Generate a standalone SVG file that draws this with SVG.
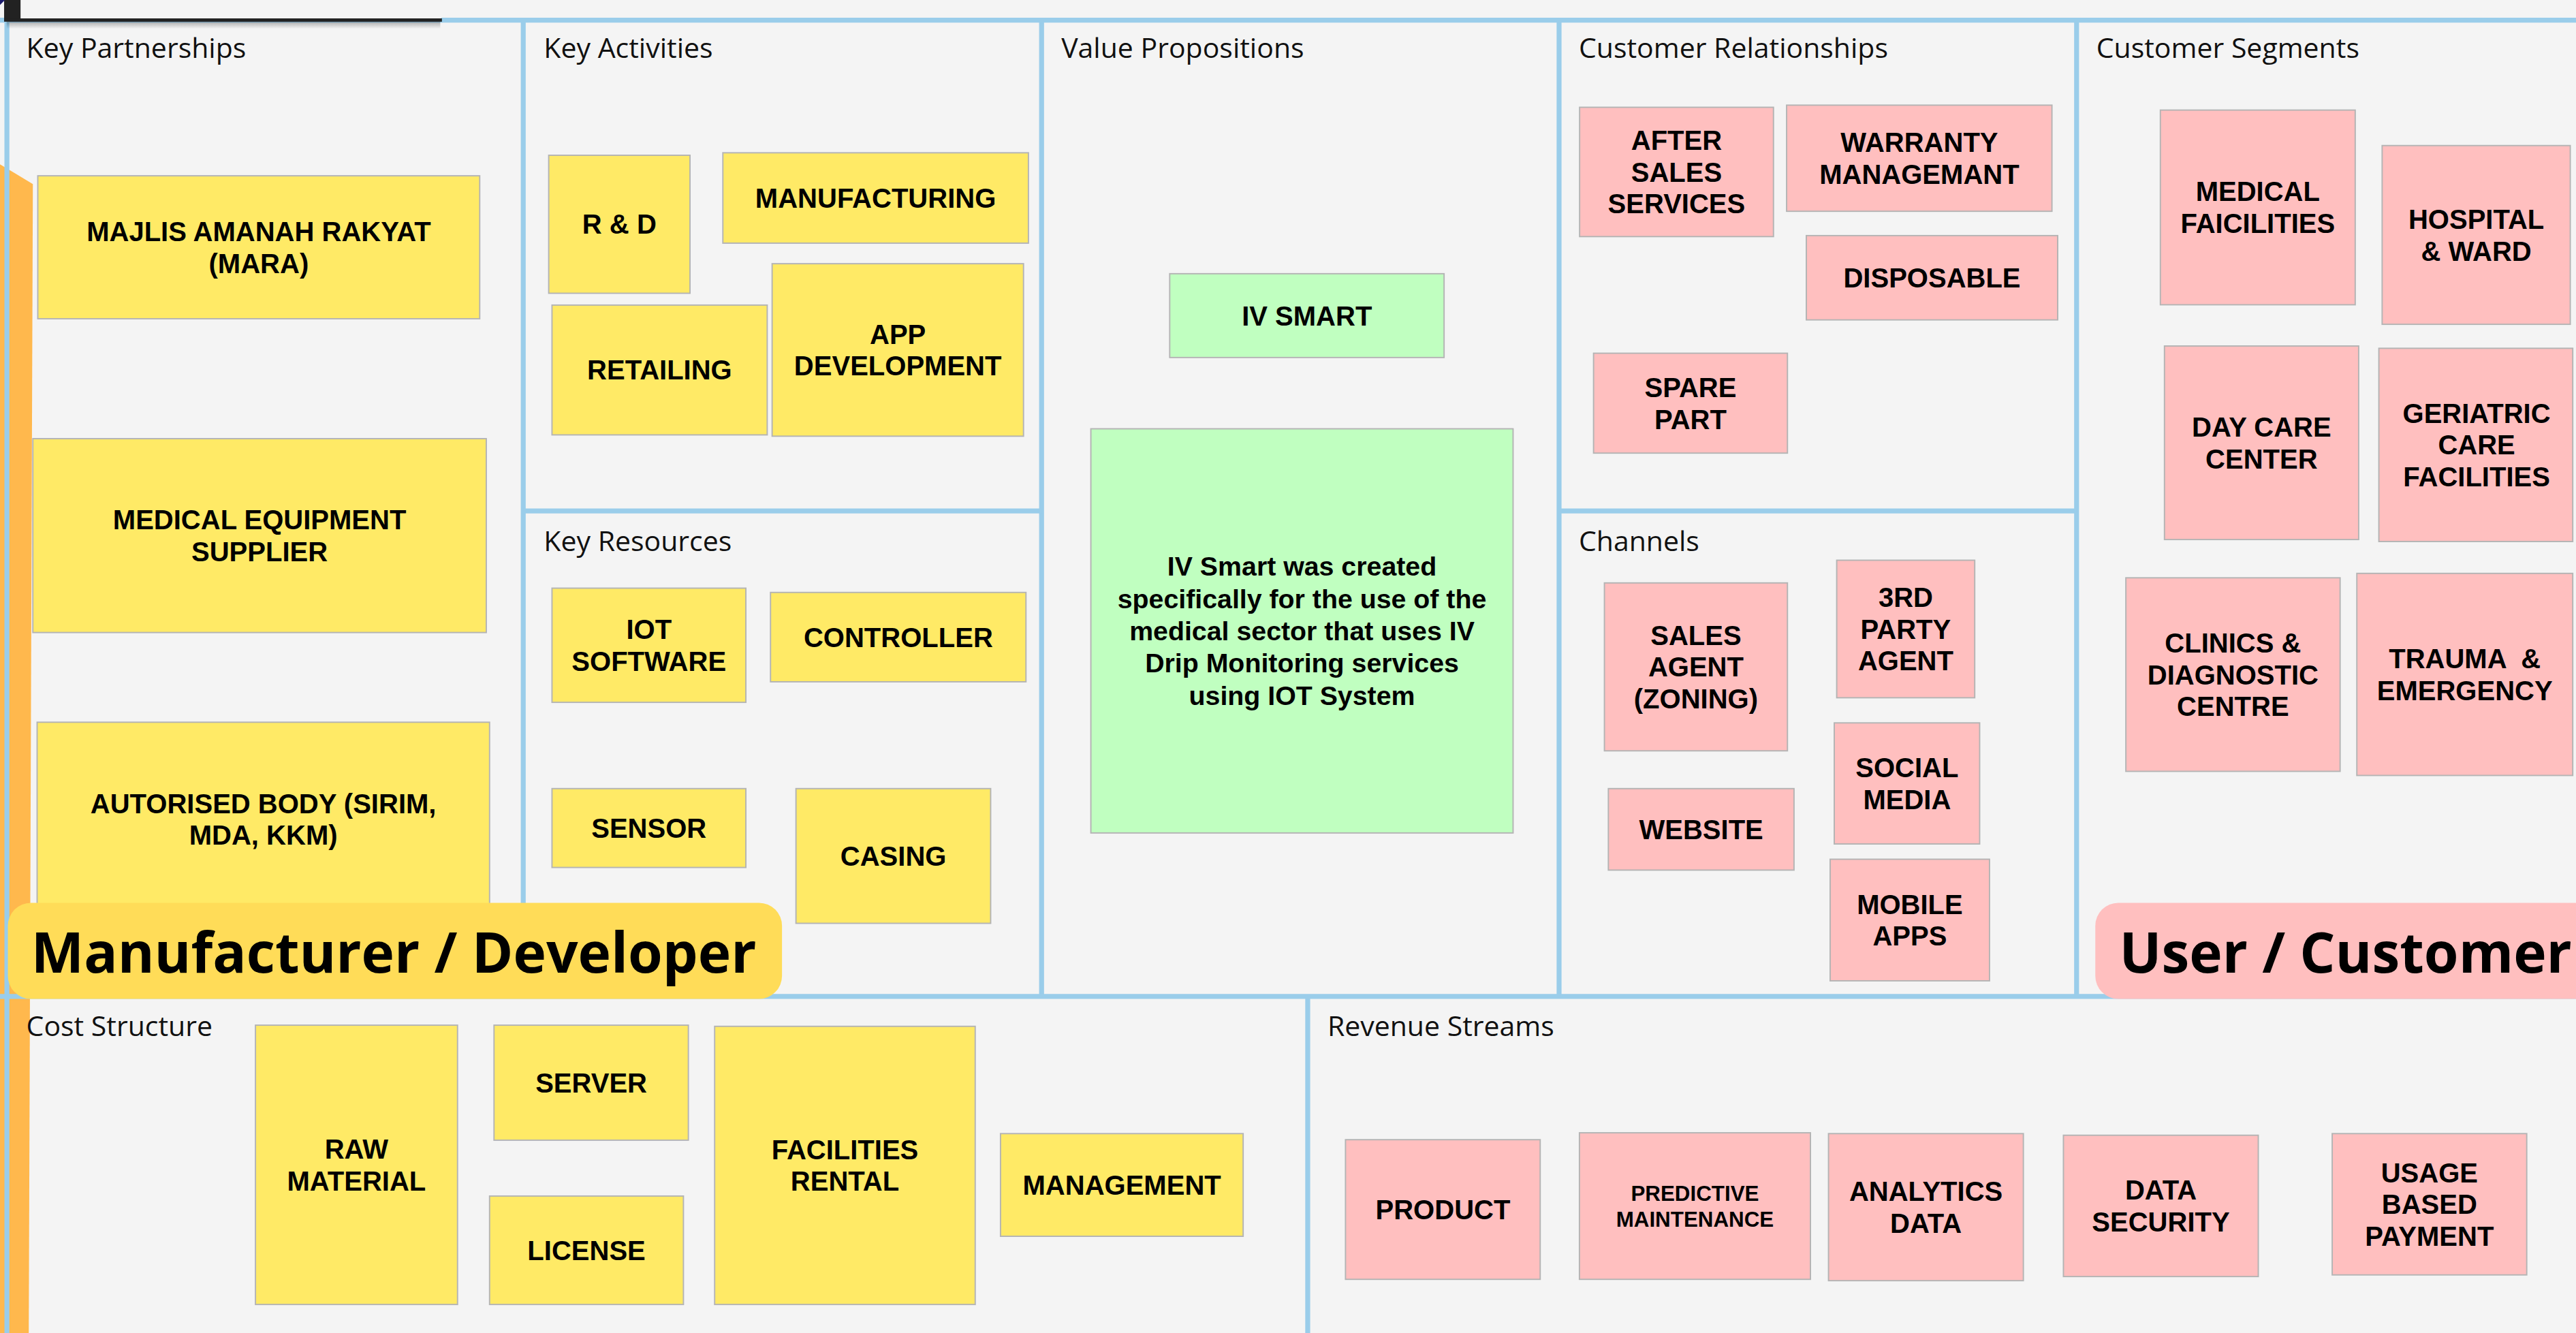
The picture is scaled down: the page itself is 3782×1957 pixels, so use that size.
<svg xmlns="http://www.w3.org/2000/svg" width="3782" height="1957" viewBox="0 0 3782 1957">
<defs>
<style>
.bg{fill:#f4f4f4}
.grid{stroke:#9acdea;stroke-width:3;fill:none}
.lbl{font-family:"Open Sans","Liberation Sans",sans-serif;font-size:17px;fill:#111}
.ny{fill:#ffea66;stroke:#b4b4b4;stroke-width:0.8}
.np{fill:#ffbfbf;stroke:#b4b4b4;stroke-width:0.8}
.ng{fill:#c0ffc0;stroke:#b4b4b4;stroke-width:0.8}
.t{font-family:"Liberation Sans",Arial,sans-serif;font-weight:bold;font-size:16.6px;fill:#000;text-anchor:middle}
.tm{font-size:16.3px}
.ts{font-size:13px}
.ban{font-family:"Open Sans","Liberation Sans",sans-serif;font-weight:bold;font-size:34px;fill:#000}
</style>
<linearGradient id="shadow" x1="0" y1="0" x2="0" y2="1">
<stop offset="0" stop-color="#000" stop-opacity="0.3"/>
<stop offset="1" stop-color="#000" stop-opacity="0"/>
</linearGradient>
</defs>
<g transform="scale(2.412)">
<rect class="bg" x="0" y="0" width="1570" height="812"/>
<polygon points="0,100 20,112 17.5,812 0,812" fill="#ffb84d"/>

<g id="connectors" class="grid">
<line x1="0" y1="12.3" x2="1570" y2="12.3"/>
<line x1="4.2" y1="12" x2="4.2" y2="812"/>
<line x1="318.5" y1="12" x2="318.5" y2="606.5"/>
<line x1="634" y1="12" x2="634" y2="606.5"/>
<line x1="949" y1="12" x2="949" y2="606.5"/>
<line x1="1264" y1="12" x2="1264" y2="606.5"/>
<line x1="318.5" y1="311" x2="634" y2="311"/>
<line x1="949" y1="311" x2="1264" y2="311"/>
<line x1="0" y1="606.5" x2="1570" y2="606.5"/>
<line x1="796" y1="606.5" x2="796" y2="812"/>
</g>

<g id="topbar">
<rect x="4" y="13" width="264" height="4.5" fill="url(#shadow)"/>
<rect x="2.5" y="0" width="266" height="12" fill="#f4f4f4"/>
<rect x="2.5" y="0" width="10" height="12.6" fill="#222"/>
<rect x="2.5" y="11.2" width="266.5" height="2" fill="#222"/>
<polygon points="0,0 3,0 0,3" fill="#1a1a6a"/>
</g>

<g id="labels">
<text class="lbl" x="16" y="35.2">Key Partnerships</text>
<text class="lbl" x="331" y="35.2">Key Activities</text>
<text class="lbl" x="646" y="35.2">Value Propositions</text>
<text class="lbl" x="961" y="35.2">Customer Relationships</text>
<text class="lbl" x="1276" y="35.2">Customer Segments</text>
<text class="lbl" x="331" y="335.5">Key Resources</text>
<text class="lbl" x="961" y="335.5">Channels</text>
<text class="lbl" x="16" y="630.5">Cost Structure</text>
<text class="lbl" x="808" y="630.5">Revenue Streams</text>
</g>

<g id="n-mara"><rect class="ny" x="23" y="107" width="269" height="87"/><text class="t"><tspan x="157.5" y="146.8">MAJLIS AMANAH RAKYAT</tspan><tspan x="157.5" y="166.1">(MARA)</tspan></text></g>
<g id="n-mes"><rect class="ny" x="20" y="267" width="276" height="118"/><text class="t"><tspan x="158" y="322.3">MEDICAL EQUIPMENT</tspan><tspan x="158" y="341.6">SUPPLIER</tspan></text></g>
<g id="n-auth"><rect class="ny" x="22.6" y="439.6" width="275.4" height="120"/><text class="t"><tspan x="160.3" y="494.9">AUTORISED BODY (SIRIM,</tspan><tspan x="160.3" y="514.2">MDA, KKM)</tspan></text></g>

<g id="n-rd"><rect class="ny" x="334" y="94.5" width="86" height="84"/><text class="t" x="377" y="142.4">R &amp; D</text></g>
<g id="n-manu"><rect class="ny" x="440" y="93" width="186" height="55"/><text class="t" x="533" y="126.4">MANUFACTURING</text></g>
<g id="n-retail"><rect class="ny" x="336" y="185.7" width="131" height="79"/><text class="t" x="401.5" y="231.1">RETAILING</text></g>
<g id="n-appdev"><rect class="ny" x="470" y="160.5" width="153" height="105"/><text class="t"><tspan x="546.5" y="209.2">APP</tspan><tspan x="546.5" y="228.5">DEVELOPMENT</tspan></text></g>

<g id="n-iot"><rect class="ny" x="336" y="358" width="118" height="69.5"/><text class="t"><tspan x="395" y="389">IOT</tspan><tspan x="395" y="408.3">SOFTWARE</tspan></text></g>
<g id="n-ctrl"><rect class="ny" x="469" y="360.6" width="155.5" height="54.4"/><text class="t" x="546.8" y="393.7">CONTROLLER</text></g>
<g id="n-sensor"><rect class="ny" x="336" y="480" width="118" height="48"/><text class="t" x="395" y="509.9">SENSOR</text></g>
<g id="n-casing"><rect class="ny" x="484.5" y="480" width="118.5" height="82"/><text class="t" x="543.8" y="526.9">CASING</text></g>

<g id="n-ivsmart"><rect class="ng" x="712" y="166.6" width="167" height="51"/><text class="t" x="795.5" y="198">IV SMART</text></g>
<g id="n-ivdesc"><rect class="ng" x="664" y="261" width="257" height="246"/><text class="t tm"><tspan x="792.5" y="350.5">IV Smart was created</tspan><tspan x="792.5" y="370.1">specifically for the use of the</tspan><tspan x="792.5" y="389.7">medical sector that uses IV</tspan><tspan x="792.5" y="409.3">Drip Monitoring services</tspan><tspan x="792.5" y="428.9">using IOT System</tspan></text></g>

<g id="n-after"><rect class="np" x="961.5" y="65.3" width="118" height="78.7"/><text class="t"><tspan x="1020.5" y="91.3">AFTER</tspan><tspan x="1020.5" y="110.6">SALES</tspan><tspan x="1020.5" y="129.9">SERVICES</tspan></text></g>
<g id="n-warranty"><rect class="np" x="1087.5" y="64" width="161.5" height="64.6"/><text class="t"><tspan x="1168.3" y="92.6">WARRANTY</tspan><tspan x="1168.3" y="111.9">MANAGEMANT</tspan></text></g>
<g id="n-disp"><rect class="np" x="1099.5" y="143.4" width="153" height="51.3"/><text class="t" x="1176" y="175">DISPOSABLE</text></g>
<g id="n-spare"><rect class="np" x="970" y="215" width="118" height="60.8"/><text class="t"><tspan x="1029" y="241.7">SPARE</tspan><tspan x="1029" y="261">PART</tspan></text></g>

<g id="n-sales"><rect class="np" x="976.6" y="354.8" width="111.4" height="102.2"/><text class="t"><tspan x="1032.3" y="392.5">SALES</tspan><tspan x="1032.3" y="411.8">AGENT</tspan><tspan x="1032.3" y="431.1">(ZONING)</tspan></text></g>
<g id="n-3rd"><rect class="np" x="1118" y="341" width="84" height="83.7"/><text class="t"><tspan x="1160" y="369.5">3RD</tspan><tspan x="1160" y="388.8">PARTY</tspan><tspan x="1160" y="408.1">AGENT</tspan></text></g>
<g id="n-web"><rect class="np" x="979" y="480" width="113" height="49.6"/><text class="t" x="1035.5" y="510.7">WEBSITE</text></g>
<g id="n-social"><rect class="np" x="1116.5" y="440" width="88.5" height="73.7"/><text class="t"><tspan x="1160.8" y="473.1">SOCIAL</tspan><tspan x="1160.8" y="492.4">MEDIA</tspan></text></g>
<g id="n-mobile"><rect class="np" x="1114" y="523" width="97" height="74"/><text class="t"><tspan x="1162.5" y="556.3">MOBILE</tspan><tspan x="1162.5" y="575.6">APPS</tspan></text></g>

<g id="n-medfac"><rect class="np" x="1315" y="67" width="118.6" height="118.5"/><text class="t"><tspan x="1374.3" y="122.5">MEDICAL</tspan><tspan x="1374.3" y="141.8">FAICILITIES</tspan></text></g>
<g id="n-hosp"><rect class="np" x="1450" y="88.6" width="114.5" height="108.8"/><text class="t"><tspan x="1507.3" y="139.3">HOSPITAL</tspan><tspan x="1507.3" y="158.6">&amp; WARD</tspan></text></g>
<g id="n-daycare"><rect class="np" x="1317.5" y="210.6" width="118.2" height="117.8"/><text class="t"><tspan x="1376.6" y="265.8">DAY CARE</tspan><tspan x="1376.6" y="285.1">CENTER</tspan></text></g>
<g id="n-geri"><rect class="np" x="1448" y="212" width="118" height="117.6"/><text class="t"><tspan x="1507.5" y="257.4">GERIATRIC</tspan><tspan x="1507.5" y="276.7">CARE</tspan><tspan x="1507.5" y="296">FACILITIES</tspan></text></g>
<g id="n-clinic"><rect class="np" x="1294" y="351.7" width="130.4" height="117.8"/><text class="t"><tspan x="1359.2" y="397.2">CLINICS &amp;</tspan><tspan x="1359.2" y="416.5">DIAGNOSTIC</tspan><tspan x="1359.2" y="435.8">CENTRE</tspan></text></g>
<g id="n-trauma"><rect class="np" x="1434.6" y="349" width="131.4" height="123"/><text class="t"><tspan x="1500.3" y="406.8">TRAUMA &#160;&amp;</tspan><tspan x="1500.3" y="426.1">EMERGENCY</tspan></text></g>

<g id="n-raw"><rect class="ny" x="155.5" y="624" width="123" height="170"/><text class="t"><tspan x="217" y="705.3">RAW</tspan><tspan x="217" y="724.6">MATERIAL</tspan></text></g>
<g id="n-server"><rect class="ny" x="300.7" y="624" width="118.3" height="70"/><text class="t" x="359.9" y="664.9">SERVER</text></g>
<g id="n-license"><rect class="ny" x="298" y="728" width="118" height="66"/><text class="t" x="357" y="766.9">LICENSE</text></g>
<g id="n-facil"><rect class="ny" x="435" y="624.7" width="158.6" height="169.3"/><text class="t"><tspan x="514.3" y="705.6">FACILITIES</tspan><tspan x="514.3" y="724.9">RENTAL</tspan></text></g>
<g id="n-mgmt"><rect class="ny" x="609" y="690" width="147.7" height="62.5"/><text class="t" x="682.9" y="727.2">MANAGEMENT</text></g>

<g id="n-product"><rect class="np" x="819" y="693.7" width="118.5" height="85"/><text class="t" x="878.3" y="742.1">PRODUCT</text></g>
<g id="n-predict"><rect class="np" x="961.4" y="689.5" width="140.6" height="89.2"/><text class="t ts"><tspan x="1031.7" y="730.9">PREDICTIVE</tspan><tspan x="1031.7" y="746.5">MAINTENANCE</tspan></text></g>
<g id="n-analytics"><rect class="np" x="1113" y="690" width="118.6" height="89.5"/><text class="t"><tspan x="1172.3" y="731">ANALYTICS</tspan><tspan x="1172.3" y="750.3">DATA</tspan></text></g>
<g id="n-datasec"><rect class="np" x="1256" y="691" width="118.6" height="86"/><text class="t"><tspan x="1315.3" y="730.3">DATA</tspan><tspan x="1315.3" y="749.6">SECURITY</tspan></text></g>
<g id="n-usage"><rect class="np" x="1419.6" y="690" width="118.4" height="86"/><text class="t"><tspan x="1478.8" y="719.6">USAGE</tspan><tspan x="1478.8" y="738.9">BASED</tspan><tspan x="1478.8" y="758.2">PAYMENT</tspan></text></g>

<g id="banner-manufacturer"><rect x="4.8" y="549.5" width="471.2" height="58.5" rx="14" fill="#ffdc58"/><text class="ban" x="19" y="592">Manufacturer / Developer</text></g>
<g id="banner-user"><rect x="1275.4" y="549.5" width="330" height="58.5" rx="14" fill="#ffbfbf"/><text class="ban" x="1290" y="592">User / Customer</text></g>
</g>
</svg>
